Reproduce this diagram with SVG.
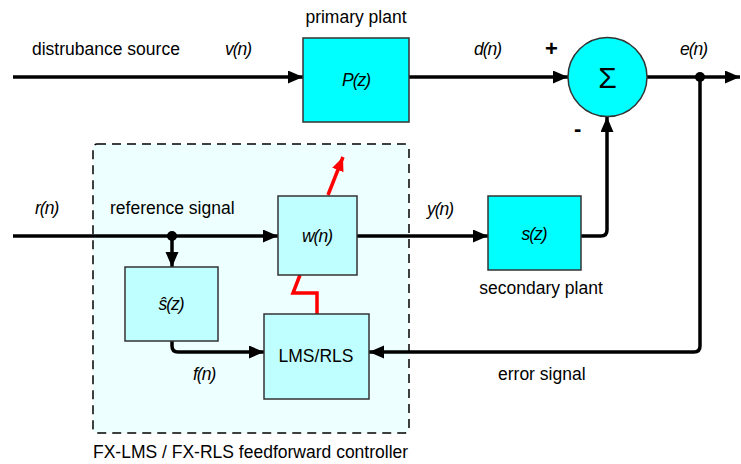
<svg xmlns="http://www.w3.org/2000/svg" width="741" height="464" viewBox="0 0 741 464">
<defs>
<marker id="ah" markerUnits="userSpaceOnUse" markerWidth="16" markerHeight="14" refX="15" refY="6.5" orient="auto">
<path d="M0,0 L15,6.5 L0,13 z" fill="#000"/>
</marker>
<marker id="ahr" markerUnits="userSpaceOnUse" markerWidth="16" markerHeight="14" refX="14" refY="6" orient="auto">
<path d="M0,0 L14,6 L0,12 z" fill="#ff0000"/>
</marker>
</defs>
<style>
text{font-family:"Liberation Sans",Arial,sans-serif;font-size:17.5px;fill:#000}
.it{font-style:italic;letter-spacing:-1px}
.box{stroke:#333;stroke-width:1.5}
.cy{fill:#00ffff}
.lc{fill:#c0ffff}
.w{fill:none;stroke:#000;stroke-width:3.5}
.r{fill:none;stroke:#ff0000;stroke-width:3.5}
</style>
<rect width="741" height="464" fill="#fff"/>
<g id="controller">
<rect x="93" y="144" width="316" height="289" rx="4" fill="#eeffff" stroke="#000" stroke-width="1.5" stroke-dasharray="9,6"/>
<text x="93" y="458">FX-LMS / FX-RLS feedforward controller</text>
</g>
<g id="connectors">
<path class="w" d="M13,77 H303" marker-end="url(#ah)"/>
<path class="w" d="M409,77 H568" marker-end="url(#ah)"/>
<path class="w" d="M647,77 H740" marker-end="url(#ah)"/>
<path class="w" d="M700,77 V346 Q700,352 694,352 H369" marker-end="url(#ah)"/>
<path class="w" d="M13,236 H278" marker-end="url(#ah)"/>
<path class="w" d="M172,236 V267" marker-end="url(#ah)"/>
<path class="w" d="M357,236 H488" marker-end="url(#ah)"/>
<path class="w" d="M581,236 H601 Q607,236 607,230 V117" marker-end="url(#ah)"/>
<path class="w" d="M172,341 V346 Q172,352 178,352 H264" marker-end="url(#ah)"/>
<circle cx="700" cy="77" r="5" fill="#000"/>
<circle cx="172" cy="236" r="5" fill="#000"/>
<path class="r" d="M317,314 V293 H293 L300,275"/>
<path class="r" d="M328,195 L343,157" marker-end="url(#ahr)"/>
</g>
<g id="P">
<rect class="box cy" x="303" y="38" width="106" height="84"/>
<text x="356" y="86" text-anchor="middle" class="it">P(z)</text>
<text x="356" y="23" text-anchor="middle">primary plant</text>
</g>
<g id="sum">
<circle class="box cy" cx="607.5" cy="77" r="39.5"/>
<text x="607.5" y="88" text-anchor="middle" style="font-size:30px">Σ</text>
</g>
<g id="W">
<rect class="box lc" x="278" y="196" width="79" height="79"/>
<text x="317" y="242" text-anchor="middle" class="it">w(n)</text>
</g>
<g id="S">
<rect class="box cy" x="488" y="196" width="93" height="74"/>
<text x="534" y="240" text-anchor="middle" class="it">s(z)</text>
<text x="541" y="294" text-anchor="middle">secondary plant</text>
</g>
<g id="Shat">
<rect class="box lc" x="125" y="267" width="93" height="74"/>
<text x="171" y="310" text-anchor="middle" class="it">ŝ(z)</text>
</g>
<g id="LMS">
<rect class="box lc" x="264" y="314" width="105" height="85"/>
<text x="316" y="362" text-anchor="middle">LMS/RLS</text>
</g>
<g id="labels">
<text x="32" y="55">distrubance source</text>
<text x="225" y="55" class="it">v(n)</text>
<text x="474" y="55" class="it">d(n)</text>
<text x="545" y="56" style="font-size:22px;font-weight:bold">+</text>
<text x="680" y="55" class="it">e(n)</text>
<text x="574" y="136" style="font-size:22px;font-weight:bold">-</text>
<text x="35" y="214" class="it">r(n)</text>
<text x="110" y="214">reference signal</text>
<text x="427" y="215" class="it">y(n)</text>
<text x="193" y="380" class="it">f(n)</text>
<text x="498" y="380">error signal</text>
</g>
</svg>
